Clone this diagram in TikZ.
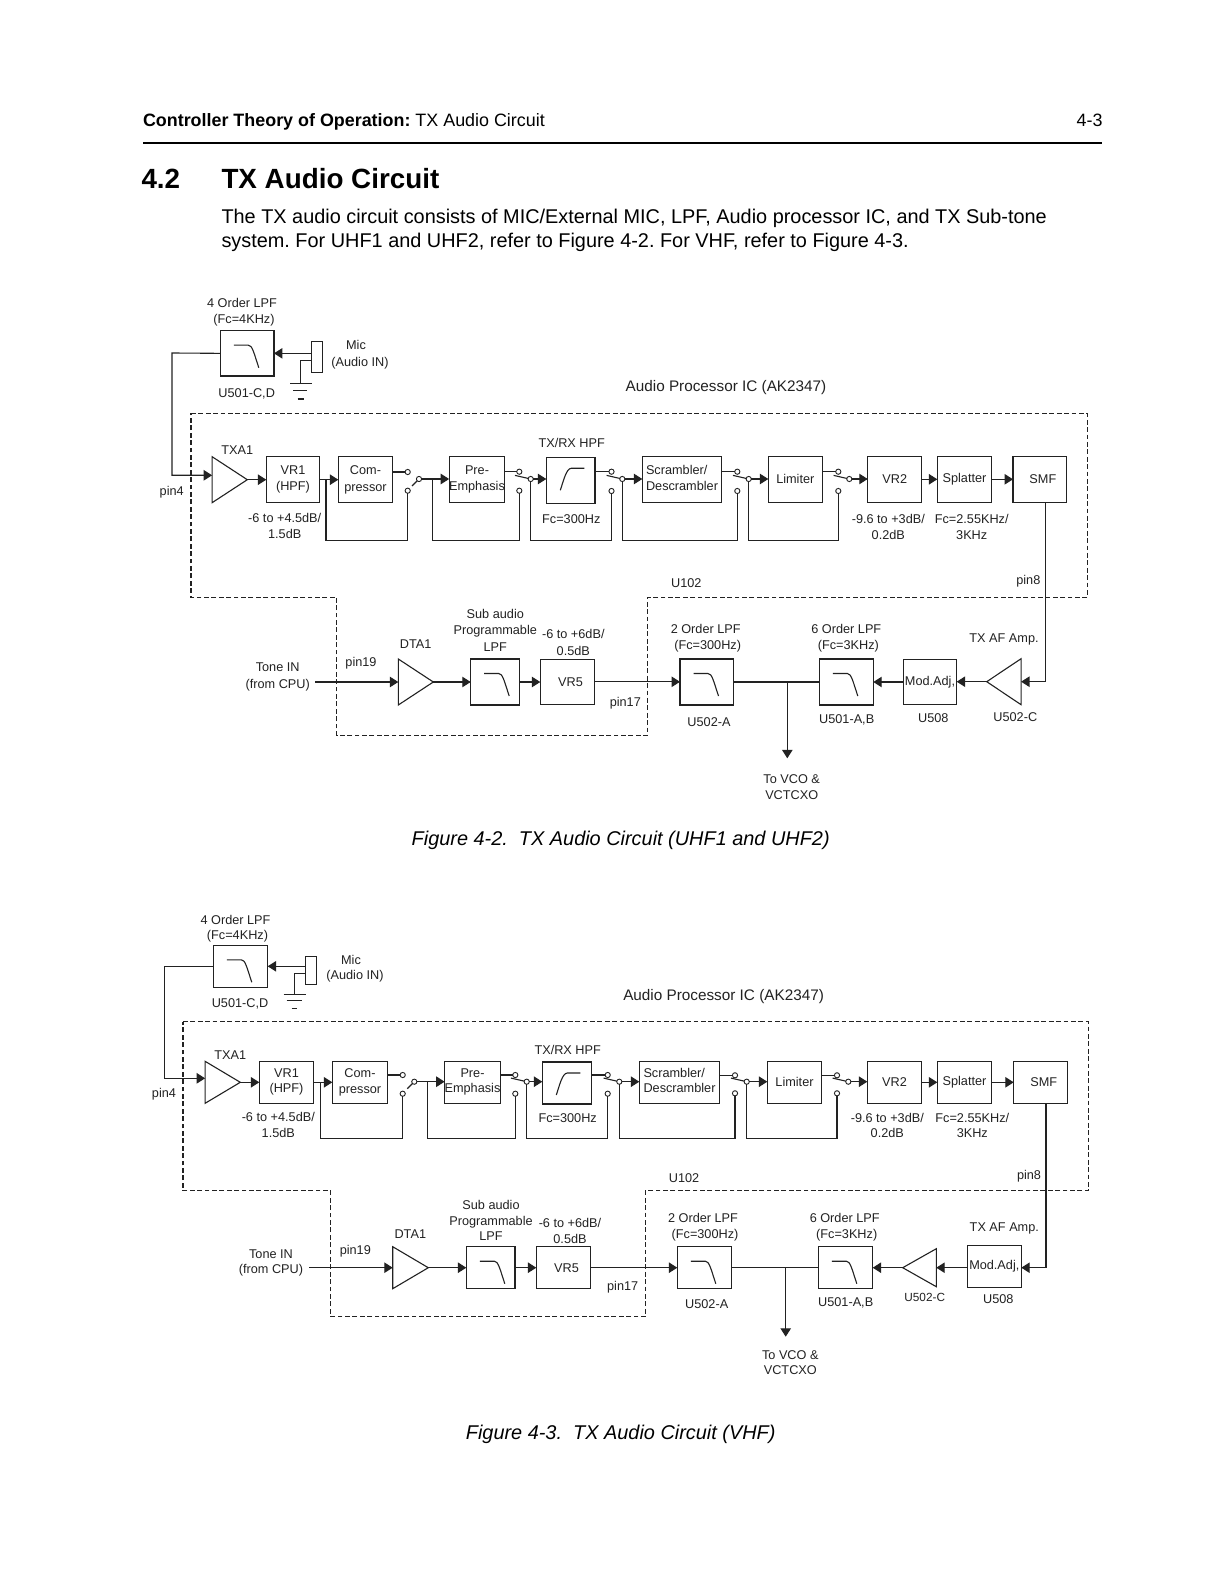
\documentclass[tikz,border=0pt]{standalone}
\usepackage{fontspec}
\setmainfont{Liberation Sans}
\usetikzlibrary{arrows.meta,shapes.geometric,calc}
\definecolor{ink}{HTML}{222222}
\frenchspacing
\tikzset{
  wire/.style={draw=ink,line width=0.55pt},
  arr/.style={wire,-{Triangle[length=4.2pt,width=5.2pt,fill=ink]}},
  dashline/.style={draw=ink,line width=0.7pt,dash pattern=on 2.4pt off 1.3pt},
  blk/.style={draw=ink,line width=0.55pt,inner sep=0pt,outer sep=0pt,font=\lb,align=center,text=ink},
  lab/.style={inner sep=0pt,outer sep=0pt,font=\lb,align=center,text=ink,yshift=-0.5pt},
  ct/.style={circle,draw=ink,line width=0.45pt,fill=white,inner sep=0pt,minimum size=2.6pt,outer sep=0pt},
  amp/.style={isosceles triangle,isosceles triangle stretches=true,draw=ink,line width=0.55pt,inner sep=0pt,outer sep=0pt,anchor=apex},
  page/.style={inner sep=0pt,outer sep=0pt,anchor=base west,text=black},
}
\newcommand\blk[6]{\node[blk,minimum width={(#4-#2)*0.5pt},minimum height={(#5-#3)*0.5pt}] (#1) at ({(#2+#4)/2},{(#3+#5)/2}) {#6};}
\newcommand\lab[4]{\node[lab] (#1) at (#2,#3) {#4};}
\newcommand\sw[6]{\node[ct] (#1t) at (#2,#3) {}; \node[ct] (#1l) at (#2,#4) {}; \node[ct] (#1o) at (#5,#6) {};}
\newcommand\upl[1]{\draw[wire] (#1o) -- ++(-15.7,-3.6);}
\newcommand\lpf[1]{\draw[wire] ([shift={(13.5,14.5)}]#1.north west) -- ++(14.5,0) .. controls +(4,0) and +(-5,-15) .. ++(10.5,22.5);}
\newcommand\hpf[1]{\draw[wire] ([shift={(14,33)}]#1.north west) .. controls +(3,-9) and +(-5,0) .. ++(11,-22) -- ++(13,0);}
\newcommand\gloop[3]{\draw[wire] (#1) -- (#1 |- 0,#3) -| (#2);}
\begin{document}
\begin{tikzpicture}[x=0.5pt,y=-0.5pt]
\useasboundingbox[fill=white] (0,0) rectangle (1219,1582);
% ---- page text
\node[page,font=\fontsize{8.95}{11}\selectfont] (hdr) at (143,127) {\textbf{Controller Theory of Operation:} TX Audio Circuit};
\node[page,anchor=base east,font=\fontsize{8.95}{11}\selectfont] (pgno) at (1102.5,127) {4-3};
\coordinate (ruleL) at (143,142.7); \coordinate (ruleR) at (1102,142.7);
\draw[black,line width=1pt] (ruleL) -- (ruleR);
\node[page,font=\bfseries\fontsize{13.9}{17}\selectfont] (secno) at (141.5,189) {4.2};
\node[page,font=\bfseries\fontsize{13.9}{17}\selectfont] (sectt) at (221.5,189) {TX Audio Circuit};
\node[page,font=\fontsize{9.94}{12}\selectfont] (bod1) at (221.5,223.7) {The TX audio circuit consists of MIC/External MIC, LPF, Audio processor IC, and TX Sub-tone};
\node[page,font=\fontsize{9.94}{12}\selectfont] (bod2) at (221.5,247.7) {system. For UHF1 and UHF2, refer to Figure 4-2. For VHF, refer to Figure 4-3.};
\node[page,anchor=base,font=\itshape\fontsize{9.95}{12}\selectfont] (capa) at (620.7,845) {Figure 4-2.\ \ TX Audio Circuit (UHF1 and UHF2)};
\node[page,anchor=base,font=\itshape\fontsize{9.95}{12}\selectfont] (capb) at (620.7,1439) {Figure 4-3.\ \ TX Audio Circuit (VHF)};
% ======== FIGURE 4-2
\def\lb{\fontsize{6.35}{8.2}\selectfont}
\draw[dashline] (191,413.3) -- (1087.3,413.3) -- (1087.3,597.3) -- (647.7,597.3) -- (647.7,735.3) -- (336.7,735.3) -- (336.7,597.3) -- (191,597.3) -- cycle;
\blk{aLp}{220.3}{330.7}{274}{376}{}\lpf{aLp}
\blk{aMic}{311.7}{341.3}{322.7}{372.3}{}
\coordinate (aMg) at (311.7,360.7); \coordinate (aGc) at (300.7,383.7);
\coordinate (aGa) at (290,383.7); \coordinate (aGb) at (311.7,383.7);
\coordinate (aGd) at (293.3,390.3); \coordinate (aGe) at (307.3,390.3);
\coordinate (aGf) at (297.7,399); \coordinate (aGg) at (304,399);
\draw[wire] (aMg) -| (aGc); \draw[wire] (aGa) -- (aGb); \draw[wire] (aGd) -- (aGe); \draw[wire] (aGf) -- (aGg);
\draw[arr] (aMic.west |- aLp.east) -- (aLp.east);
\node[amp,minimum height=17.6pt,minimum width=23pt] (aTx) at (247.3,479.7) {};
\coordinate (aP1) at (172,353); \coordinate (aP2) at (172,475.3);
\draw[arr] (aLp.west) -- (aP1) -- (aP2) -- (aTx.lower side |- aP2);
\blk{aV1}{266.3}{456.7}{319.7}{502.7}{VR1\\(HPF)}
\blk{aCo}{338.3}{456.7}{392.7}{502.7}{Com-\\pressor}
\blk{aPr}{450.3}{456.7}{503.7}{502.7}{Pre-\\Emphasis}
\blk{aHp}{546.3}{457.3}{595}{503.3}{}\hpf{aHp}
\blk{aSc}{642.3}{456.3}{721.7}{502.3}{\begin{tabular}{@{}l@{}}Scrambler/\\Descrambler\end{tabular}}
\blk{aLi}{768.3}{456.3}{822.3}{502.3}{Limiter}
\blk{aV2}{867.7}{456.3}{921.7}{502.3}{VR2}
\blk{aSp}{937.3}{456.3}{991.7}{502.3}{Splatter}
\blk{aSm}{1013}{456.3}{1066.7}{502.3}{\hspace*{3pt}SMF}
\sw{aS1}{407.7}{472}{490.7}{419}{479}
\sw{aS2}{519.3}{471.7}{490.7}{530.7}{479}
\sw{aS3}{611.5}{471.7}{491}{622.3}{479}
\sw{aS4}{737.3}{471.7}{491}{748.7}{479}
\sw{aS5}{838.3}{471.7}{491}{849.3}{479}
\draw[wire] (aS1o) -- ++(-7,7);
\upl{aS2}\upl{aS3}\upl{aS4}\upl{aS5}
\draw[arr] (aTx.apex) -- (aV1.west |- aTx.apex);
\draw[arr] (aV1.east) -- (aCo.west);
\foreach \bx/\sn in {aCo/aS1,aPr/aS2,aHp/aS3,aSc/aS4,aLi/aS5}{\draw[wire] (\bx.east |- \sn t) -- (\sn t);}
\draw[arr] (aS1o) -- (aPr.west |- aS1o);
\draw[arr] (aS2o) -- (aHp.west |- aS2o);
\draw[arr] (aS3o) -- (aSc.west |- aS3o);
\draw[arr] (aS4o) -- (aLi.west |- aS4o);
\draw[arr] (aS5o) -- (aV2.west |- aS5o);
\draw[arr] (aV2.east) -- (aSp.west);
\draw[arr] (aSp.east) -- (aSm.west);
\coordinate (aJ1) at (326,479.7); \coordinate (aJ2) at (432.7,479);
\gloop{aJ1}{aS1l}{540.3}
\gloop{aJ2}{aS2l}{540.3}
\gloop{aS2o.south}{aS3l}{540.3}
\gloop{aS3o.south}{aS4l}{540.3}
\gloop{aS4o.south}{aS5l}{540.3}
% lower row
\node[amp,minimum height=17.5pt,minimum width=23pt] (aDt) at (433.3,682) {};
\blk{aSb}{470.7}{659}{519.3}{705}{}\lpf{aSb}
\blk{aV5}{540.3}{659.3}{594.7}{704.3}{\hspace*{3pt}VR5}
\blk{aU2}{680}{659}{733.7}{705}{}\lpf{aU2}
\blk{aU1}{819.3}{659}{873.3}{705}{}\lpf{aU1}
\blk{aMo}{903.3}{659.3}{956.7}{704.3}{Mod.Adj,}
\node[amp,shape border rotate=180,minimum height=17.2pt,minimum width=23pt] (aAf) at (986.7,681.7) {};
\coordinate (aTi) at (315,682); \coordinate (aOt) at (787.3,758.3); \coordinate (aBr) at (787.3,682);
\draw[arr] (aTi) -- (aDt.lower side |- aTi);
\draw[arr] (aDt.apex) -- (aSb.west |- aDt.apex);
\draw[arr] (aSb.east) -- (aV5.west |- aSb.east);
\draw[arr] (aV5.east) -- (aU2.west |- aV5.east);
\draw[wire] (aU2.east) -- (aU1.west);
\draw[arr] (aBr) -- (aOt);
\draw[arr] (aMo.west |- aU1.east) -- (aU1.east);
\draw[arr] (aAf.apex) -- (aMo.east |- aAf.apex);
\coordinate (aSo) at (1045.7,502.3);
\coordinate (aK) at (aSo |- aAf.lower side);
\draw[arr] (aSo) -- (aK) -- (aAf.lower side);
% labels
\lab{aL1}{244}{311}{4 Order LPF\hspace*{2pt}\\(Fc=4KHz)}
\lab{aL2}{246.7}{393.3}{U501-C,D}
\lab{aL3}{360}{353.7}{Mic\hspace*{4pt}\\(Audio IN)}
\node[lab,font=\fontsize{7.65}{9}\selectfont] (aL4) at (726,386.5) {Audio Processor IC (AK2347)};
\lab{aL5}{237.3}{449.3}{TXA1}
\lab{aL6}{171.7}{491.7}{pin4}
\lab{aL7}{284.7}{525}{-6 to +4.5dB/\\1.5dB}
\lab{aL8}{571.7}{442.3}{TX/RX HPF}
\lab{aL9}{571.3}{517.7}{Fc=300Hz}
\lab{aL10}{888.3}{525.7}{-9.6 to +3dB/\\0.2dB}
\lab{aL11}{971.7}{525.7}{Fc=2.55KHz/\\3KHz}
\lab{aL12}{686.3}{582.3}{U102}
\lab{aL13}{1028.3}{580.3}{pin8}
\lab{aL14}{277.7}{676}{Tone IN\\(from CPU)}
\lab{aL15}{361}{662.3}{pin19}
\lab{aL16}{415.7}{643.3}{DTA1}
\lab{aL17}{495.3}{629.3}{Sub audio\\Programmable\\LPF}
\lab{aL18}{573.3}{641.3}{-6 to +6dB/\\0.5dB}
\lab{aL19}{625.3}{702.7}{pin17}
\lab{aL20}{707.7}{637}{2 Order LPF\hspace*{2pt}\\(Fc=300Hz)}
\lab{aL21}{848.3}{637}{6 Order LPF\hspace*{2pt}\\(Fc=3KHz)}
\lab{aL22}{1004}{638.7}{TX AF Amp.}
\lab{aL23}{709}{720.7}{U502-A}
\lab{aL24}{846.7}{719.3}{U501-A,B}
\lab{aL25}{933.3}{717.3}{U508}
\lab{aL26}{1015.3}{716.3}{U502-C}
\lab{aL27}{791.7}{786}{To VCO \&\\VCTCXO}
% ======== FIGURE 4-3
\def\lb{\fontsize{6.35}{7.6}\selectfont}
\draw[dashline] (183,1021.7) -- (1088.3,1021.7) -- (1088.3,1190.7) -- (645.3,1190.7) -- (645.3,1316.7) -- (330.7,1316.7) -- (330.7,1190.7) -- (183,1190.7) -- cycle;
\blk{bLp}{213.3}{945.3}{267.7}{987.3}{}\lpf{bLp}
\blk{bMic}{305.7}{956.3}{316.3}{984.3}{}
\coordinate (bMg) at (305.7,973.3); \coordinate (bGc) at (294.3,994.3);
\coordinate (bGa) at (283.7,994.3); \coordinate (bGb) at (305.7,994.3);
\coordinate (bGd) at (286.7,1000.7); \coordinate (bGe) at (301.7,1000.7);
\coordinate (bGf) at (291.7,1008.3); \coordinate (bGg) at (297.3,1008.3);
\draw[wire] (bMg) -| (bGc); \draw[wire] (bGa) -- (bGb); \draw[wire] (bGd) -- (bGe); \draw[wire] (bGf) -- (bGg);
\draw[arr] (bMic.west |- bLp.east) -- (bLp.east);
\node[amp,minimum height=17.6pt,minimum width=21pt] (bTx) at (240.3,1082.3) {};
\coordinate (bP1) at (164.7,966.3); \coordinate (bP2) at (164.7,1078.3);
\draw[arr] (bLp.west) -- (bP1) -- (bP2) -- (bTx.lower side |- bP2);
\blk{bV1}{259.3}{1061.3}{313.7}{1103.3}{VR1\\(HPF)}
\blk{bCo}{332.3}{1061.3}{387.7}{1103.3}{Com-\\pressor}
\blk{bPr}{445.3}{1061.3}{499.7}{1103.3}{Pre-\\Emphasis}
\blk{bHp}{542.3}{1062}{591.7}{1104}{}\hpf{bHp}
\blk{bSc}{639.3}{1061.3}{719.7}{1103.3}{\begin{tabular}{@{}l@{}}Scrambler/\\Descrambler\end{tabular}}
\blk{bLi}{767.3}{1061.3}{821.7}{1103.3}{Limiter}
\blk{bV2}{867.3}{1061.3}{921.7}{1103.3}{VR2}
\blk{bSp}{937.3}{1061.3}{991.7}{1103.3}{Splatter}
\blk{bSm}{1013.7}{1061.3}{1067.7}{1103.3}{\hspace*{3pt}SMF}
\sw{bS1}{402.7}{1075}{1093.7}{414.3}{1081.7}
\sw{bS2}{515.3}{1075}{1093.7}{526.7}{1081.7}
\sw{bS3}{607.7}{1075}{1093.7}{619.3}{1081.7}
\sw{bS4}{735}{1075.3}{1093.3}{746.7}{1081.7}
\sw{bS5}{837}{1075.3}{1093.3}{848.3}{1081.7}
\draw[wire] (bS1o) -- ++(-7,7);
\upl{bS2}\upl{bS3}\upl{bS4}\upl{bS5}
\draw[arr] (bTx.apex) -- (bV1.west |- bTx.apex);
\draw[arr] (bV1.east) -- (bCo.west);
\foreach \bx/\sn in {bCo/bS1,bPr/bS2,bHp/bS3,bSc/bS4,bLi/bS5}{\draw[wire] (\bx.east |- \sn t) -- (\sn t);}
\draw[arr] (bS1o) -- (bPr.west |- bS1o);
\draw[arr] (bS2o) -- (bHp.west |- bS2o);
\draw[arr] (bS3o) -- (bSc.west |- bS3o);
\draw[arr] (bS4o) -- (bLi.west |- bS4o);
\draw[arr] (bS5o) -- (bV2.west |- bS5o);
\draw[arr] (bV2.east) -- (bSp.west);
\draw[arr] (bSp.east) -- (bSm.west);
\coordinate (bJ1) at (320.3,1082.3); \coordinate (bJ2) at (427.7,1081.7);
\gloop{bJ1}{bS1l}{1138.3}
\gloop{bJ2}{bS2l}{1138.3}
\gloop{bS2o.south}{bS3l}{1138.3}
\gloop{bS3o.south}{bS4l}{1138.3}
\gloop{bS4o.south}{bS5l}{1138.3}
% lower row
\node[amp,minimum height=17.8pt,minimum width=21pt] (bDt) at (428.3,1267.7) {};
\blk{bSb}{466.3}{1246.7}{515}{1288.7}{}\lpf{bSb}
\blk{bV5}{536.3}{1246.7}{590.7}{1288.7}{\hspace*{3pt}VR5}
\blk{bU2}{677.3}{1246.7}{731.7}{1288.7}{}\lpf{bU2}
\blk{bU1}{818.3}{1246.7}{872.7}{1288.7}{}\lpf{bU1}
\node[amp,shape border rotate=180,minimum height=16.8pt,minimum width=19pt] (bAf) at (902.7,1267.7) {};
\blk{bMo}{967.3}{1245.3}{1021.3}{1287.3}{Mod.Adj,}
\coordinate (bTi) at (309,1267.7); \coordinate (bOt) at (785.7,1336.7); \coordinate (bBr) at (785.7,1267.7);
\draw[arr] (bTi) -- (bDt.lower side |- bTi);
\draw[arr] (bDt.apex) -- (bSb.west |- bDt.apex);
\draw[arr] (bSb.east) -- (bV5.west |- bSb.east);
\draw[arr] (bV5.east) -- (bU2.west |- bV5.east);
\draw[wire] (bU2.east) -- (bU1.west);
\draw[arr] (bBr) -- (bOt);
\draw[arr] (bAf.apex) -- (bU1.east |- bAf.apex);
\draw[arr] (bMo.west |- bAf.lower side) -- (bAf.lower side);
\coordinate (bSo) at (1046,1103.3);
\coordinate (bK) at (bSo |- bAf.lower side);
\draw[arr] (bSo) -- (bK) -- (bMo.east |- bK);
% labels
\lab{bL1}{237.5}{928}{4 Order LPF\hspace*{2pt}\\(Fc=4KHz)}
\lab{bL2}{240}{1003}{U501-C,D}
\lab{bL3}{355}{967.7}{Mic\hspace*{4pt}\\(Audio IN)}
\node[lab,font=\fontsize{7.65}{9}\selectfont] (bL4) at (723.6,995.4) {Audio Processor IC (AK2347)};
\lab{bL5}{230.3}{1053.7}{TXA1}
\lab{bL6}{164}{1093.3}{pin4}
\lab{bL7}{278.3}{1124}{-6 to +4.5dB/\\1.5dB}
\lab{bL8}{567.7}{1048.7}{TX/RX HPF}
\lab{bL9}{567.7}{1116.7}{Fc=300Hz}
\lab{bL10}{887.3}{1124.7}{-9.6 to +3dB/\\0.2dB}
\lab{bL11}{972.3}{1124.7}{Fc=2.55KHz/\\3KHz}
\lab{bL12}{684}{1176.7}{U102}
\lab{bL13}{1029}{1175}{pin8}
\lab{bL14}{271}{1261.8}{Tone IN\\(from CPU)}
\lab{bL15}{355.3}{1250.7}{pin19}
\lab{bL16}{410.3}{1232.7}{DTA1}
\lab{bL17}{491}{1219.5}{Sub audio\\Programmable\\LPF}
\lab{bL18}{570}{1230}{-6 to +6dB/\\0.5dB}
\lab{bL19}{622.7}{1286.7}{pin17}
\lab{bL20}{705}{1226.3}{2 Order LPF\hspace*{2pt}\\(Fc=300Hz)}
\lab{bL21}{846.7}{1226.3}{6 Order LPF\hspace*{2pt}\\(Fc=3KHz)}
\lab{bL22}{1004.3}{1227.7}{TX AF Amp.}
\lab{bL23}{706.7}{1302.7}{U502-A}
\lab{bL24}{845.7}{1301.7}{U501-A,B}
\lab{bL25}{998.3}{1298.3}{U508}
\node[lab,font=\fontsize{5.9}{7}\selectfont] (bL26) at (924.7,1296) {U502-C};
\lab{bL27}{790.3}{1362}{To VCO \&\\VCTCXO}
\end{tikzpicture}
\end{document}
